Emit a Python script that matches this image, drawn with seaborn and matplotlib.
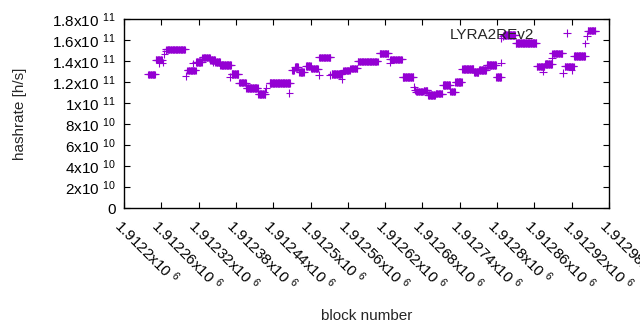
import numpy as np
import pandas as pd
import matplotlib
matplotlib.use('Agg')
import matplotlib.pyplot as plt
import seaborn as sns

# runs of blocks that share one hashrate value (first block, last block, rate in 1e9 h/s)
run_start = [1912239, 1912251, 1912257, 1912262, 1912265, 1912267, 1912268, 1912299,
             1912302, 1912311, 1912315, 1912317, 1912326, 1912339, 1912343, 1912347,
             1912355, 1912370, 1912373, 1912385, 1912397, 1912416, 1912426, 1912429,
             1912434, 1912435, 1912466, 1912470, 1912475, 1912482, 1912493, 1912501,
             1912514, 1912514, 1912531, 1912534, 1912550, 1912553, 1912564, 1912576,
             1912611, 1912628, 1912628, 1912648, 1912666, 1912668, 1912670, 1912682,
             1912689, 1912701, 1912713, 1912725, 1912733, 1912744, 1912763, 1912771,
             1912783, 1912799, 1912806, 1912807, 1912809, 1912811, 1912830, 1912864,
             1912874, 1912877, 1912888, 1912889, 1912906, 1912909, 1912920, 1912924,
             1912942, 1912945, 1912946]
run_end = [1912250, 1912261, 1912257, 1912262, 1912265, 1912267, 1912298, 1912299,
           1912315, 1912311, 1912315, 1912325, 1912338, 1912346, 1912343, 1912354,
           1912372, 1912370, 1912384, 1912396, 1912415, 1912427, 1912426, 1912429,
           1912434, 1912467, 1912466, 1912473, 1912480, 1912489, 1912500, 1912512,
           1912514, 1912532, 1912531, 1912550, 1912550, 1912563, 1912575, 1912608,
           1912625, 1912628, 1912647, 1912665, 1912666, 1912668, 1912681, 1912688,
           1912700, 1912712, 1912724, 1912732, 1912743, 1912762, 1912770, 1912782,
           1912798, 1912806, 1912806, 1912807, 1912809, 1912829, 1912863, 1912876,
           1912874, 1912888, 1912888, 1912905, 1912906, 1912923, 1912920, 1912941,
           1912942, 1912945, 1912958]
run_rate = [127.3, 141.4, 137.8, 138.4, 146.4, 150.0, 151.1, 125.7,
            131.1, 137.8, 139.3, 139.0, 143.5, 141.2, 139.3, 139.3,
            136.2, 124.5, 127.6, 119.5, 114.0, 108.3, 110.8, 114.0,
            118.8, 119.0, 109.8, 131.0, 134.5, 129.5, 135.0, 132.7,
            126.7, 143.5, 126.7, 127.6, 122.6, 131.0, 133.0, 139.7,
            147.3, 138.4, 141.6, 125.0, 115.5, 112.4, 110.8, 112.0,
            107.6, 108.9, 117.1, 110.8, 120.0, 132.4, 129.8, 131.4,
            136.2, 124.5, 138.4, 161.6, 164.0, 164.8, 157.4, 134.8,
            130.0, 137.1, 142.6, 147.3, 128.3, 134.8, 131.4, 144.8,
            156.8, 163.8, 168.9]

xticks = list(range(1912200, 1912981, 60))
xticklabels = ['1.9122x10 $^{6}$', '1.91226x10 $^{6}$', '1.91232x10 $^{6}$', '1.91238x10 $^{6}$',
               '1.91244x10 $^{6}$', '1.9125x10 $^{6}$', '1.91256x10 $^{6}$', '1.91262x10 $^{6}$',
               '1.91268x10 $^{6}$', '1.91274x10 $^{6}$', '1.9128x10 $^{6}$', '1.91286x10 $^{6}$',
               '1.91292x10 $^{6}$', '1.91298x10 $^{6}$']
yticks = [0, 2e10, 4e10, 6e10, 8e10, 1e11, 1.2e11, 1.4e11, 1.6e11, 1.8e11]
yticklabels = ['0', '2x10 $^{10}$', '4x10 $^{10}$', '6x10 $^{10}$', '8x10 $^{10}$',
               '1x10 $^{11}$', '1.2x10 $^{11}$', '1.4x10 $^{11}$', '1.6x10 $^{11}$', '1.8x10 $^{11}$']

blocks = np.concatenate([np.arange(a, b + 1) for a, b in zip(run_start, run_end)])
rates = np.concatenate([np.full(b - a + 1, r * 1e9) for a, b, r in zip(run_start, run_end, run_rate)])
df = pd.DataFrame({'block': blocks, 'hashrate': rates, 'algo': 'LYRA2REv2'})

sns.set_theme(style='ticks')
plt.rcParams['font.family'] = ['Liberation Sans', 'DejaVu Sans']
plt.rcParams['mathtext.fontset'] = 'custom'
plt.rcParams['mathtext.rm'] = 'Liberation Sans'
plt.rcParams['mathtext.it'] = 'Liberation Sans'

fig = plt.figure(figsize=(6.4, 3.3), dpi=100)
ax = fig.add_axes([124 / 640, 1 - 208 / 330, (609 - 124) / 640, (208 - 19) / 330])

sns.scatterplot(data=df, x='block', y='hashrate', hue='algo', palette=['#9400d3'],
                marker='+', s=30, linewidth=0.8, ax=ax)

ax.set_xlim(1912200, 1912980)
ax.set_ylim(0, 1.8e11)
ax.set_xticks(xticks)
ax.set_xticklabels(xticklabels, rotation=-45, ha='left', va='top', rotation_mode='anchor')
ax.set_yticks(yticks)
ax.set_yticklabels(yticklabels)
ax.tick_params(direction='in', length=4, width=0.8, top=True, right=True,
               labelsize=11, colors='black', pad=6)
for s in ax.spines.values():
    s.set_visible(True)
    s.set_linewidth(1)
    s.set_color('black')

ax.set_xlabel('block number', fontsize=11, labelpad=11)
ax.set_ylabel('hashrate [h/s]', fontsize=11, labelpad=18)

ax.legend(loc='upper right', bbox_to_anchor=((575 - 124) / 485, 0.955), frameon=False,
          markerfirst=False, fontsize=11, handletextpad=1.7, handlelength=1.0,
          borderpad=0, borderaxespad=0)

fig.savefig('out.png', dpi=100)
